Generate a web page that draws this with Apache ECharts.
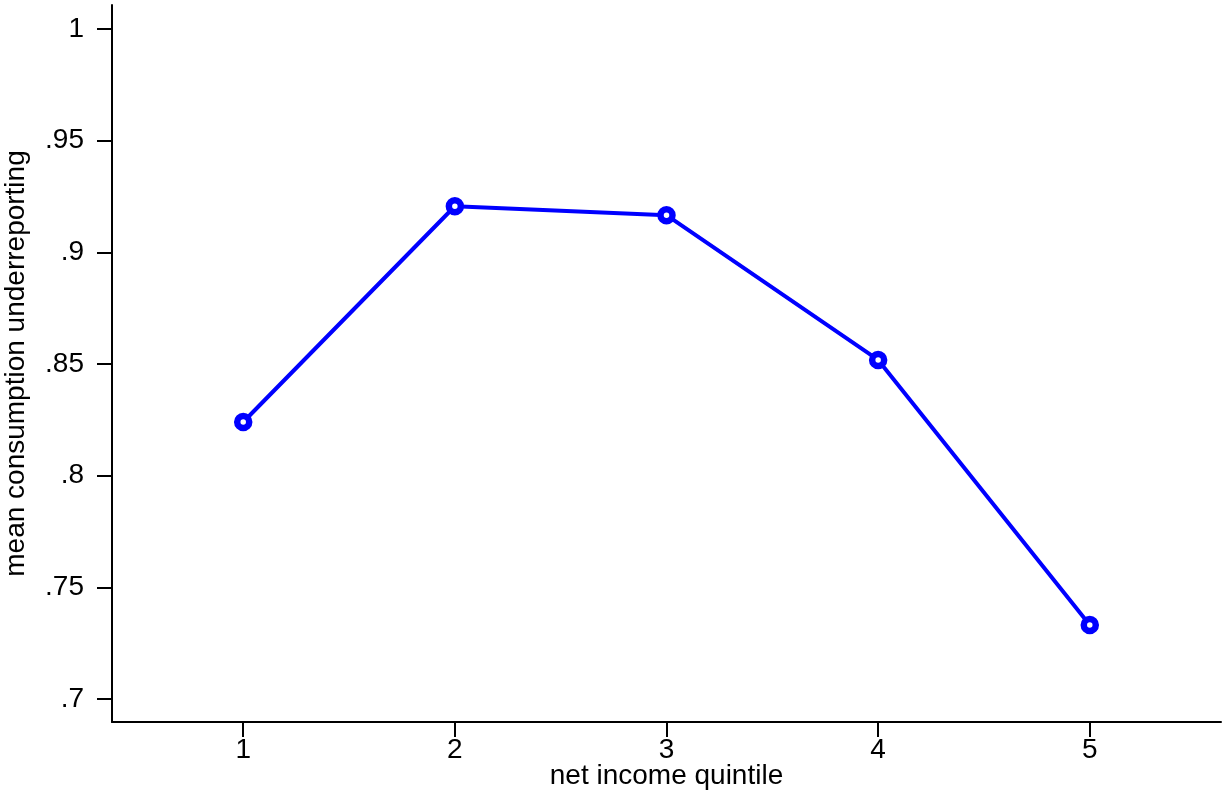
<!DOCTYPE html>
<html>
<head>
<meta charset="utf-8">
<script src="https://cdn.jsdelivr.net/npm/echarts@6/dist/echarts.min.js"></script>
<style>
html,body{margin:0;padding:0;background:#fff;}
#chart{width:1223px;height:796px;}
</style>
</head>
<body>
<div id="chart"></div>
<script>
const quintiles = [1, 2, 3, 4, 5];
const underreporting = [0.824, 0.9206, 0.9166, 0.8518, 0.7331];
const yTicks = [0.7, 0.75, 0.8, 0.85, 0.9, 0.95, 1];
const xTicks = [1, 2, 3, 4, 5];

const fontFamily = '"Liberation Sans", Arial, sans-serif';
const fs = 28;
const chart = echarts.init(document.getElementById('chart'), null, {renderer: 'canvas'});

function fmtY(v) {
  let s = (+v.toFixed(2)).toString();
  if (s.startsWith('0.')) s = s.slice(1);
  return s;
}

chart.setOption({
  animation: false,
  backgroundColor: '#ffffff',
  grid: {left: 112, right: 2, top: 5, bottom: 74, containLabel: false, outerBoundsMode: 'none'},
  xAxis: {
    type: 'value',
    min: 0.38,
    max: 5.62,
    name: 'net income quintile',
    nameLocation: 'middle',
    nameGap: 40,
    nameMoveOverlap: false,
    nameTextStyle: {color: '#000', fontSize: fs, fontFamily: fontFamily},
    axisLine: {show: true, onZero: false, lineStyle: {color: '#000', width: 2}},
    axisTick: {show: true, length: 15, lineStyle: {color: '#000', width: 2}, customValues: xTicks},
    axisLabel: {color: '#000', fontSize: fs, fontFamily: fontFamily, margin: 14, customValues: xTicks,
      formatter: v => String(v)},
    splitLine: {show: false}
  },
  yAxis: {
    type: 'value',
    min: 0.6897,
    max: 1.0107,
    name: 'mean consumption underreporting',
    nameLocation: 'middle',
    nameGap: 82,
    nameMoveOverlap: false,
    nameTextStyle: {color: '#000', fontSize: fs, fontFamily: fontFamily},
    axisLine: {show: true, onZero: false, lineStyle: {color: '#000', width: 2}},
    axisTick: {show: true, length: 15, lineStyle: {color: '#000', width: 2}, customValues: yTicks},
    axisLabel: {color: '#000', fontSize: fs, fontFamily: fontFamily, margin: 28, customValues: yTicks,
      formatter: fmtY},
    splitLine: {show: false}
  },
  series: [{
    type: 'line',
    data: quintiles.map((q, i) => [q, underreporting[i]]),
    symbol: 'circle',
    symbolSize: 12,
    lineStyle: {color: '#0000ff', width: 4},
    itemStyle: {color: '#ffffff', borderColor: '#0000ff', borderWidth: 6.5},
    emphasis: {disabled: true}
  }]
});
</script>
</body>
</html>
